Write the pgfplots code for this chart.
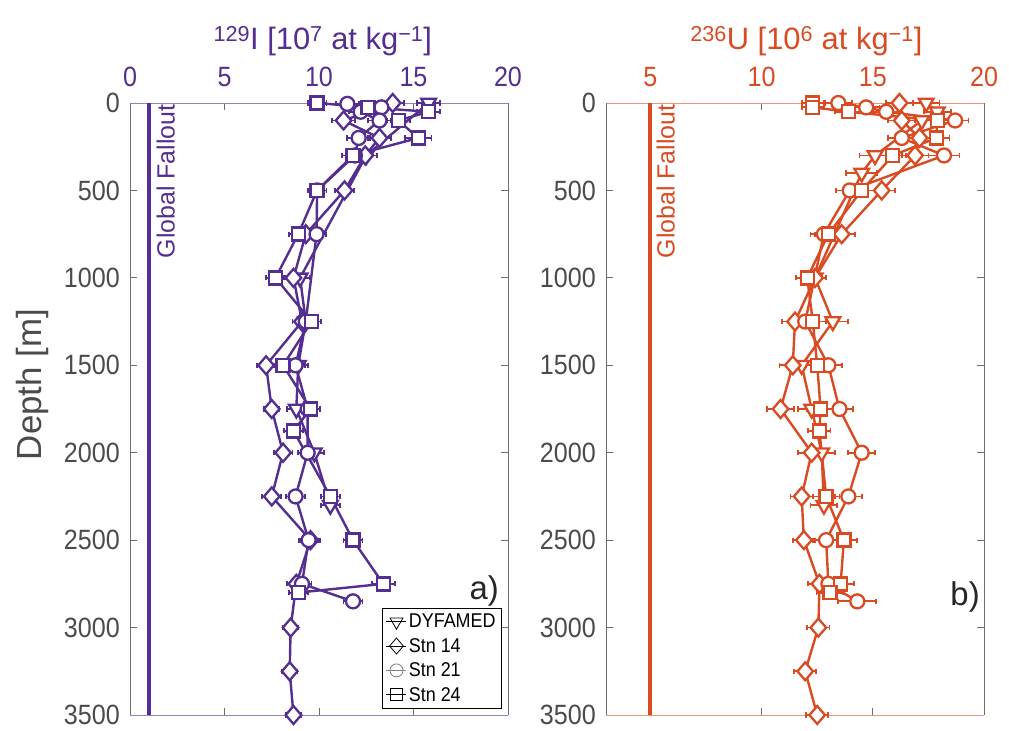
\documentclass[border=0pt]{standalone}
\usepackage{fontspec}
\setmainfont{Liberation Sans}
\newfontfamily\cond[FakeStretch=0.9]{Liberation Sans}
\usepackage{pgfplots}
\usepackage{pgfplotstable}
\pgfplotsset{compat=1.18}
\definecolor{pI}{RGB}{84,46,145}
\definecolor{pU}{RGB}{217,75,35}
\definecolor{axgray}{RGB}{110,110,110}
\definecolor{tickgray}{RGB}{75,75,75}

% ---------- 129I ----------
\pgfplotstableread{
d v e
0 15.8 0.6
300 12.5 0.6
1000 9.0 0.5
1250 9.3 0.5
1500 8.9 0.5
1750 8.8 0.5
2000 9.75 0.5
2300 10.6 0.5
}\IDY
\pgfplotstableread{
d v e
0 13.9 0.6
100 11.3 0.6
200 13.2 0.6
300 12.45 0.6
500 11.35 0.5
750 9.3 0.5
1000 8.65 0.5
1250 9.1 0.5
1500 7.2 0.5
1750 7.5 0.4
2000 8.1 0.5
2250 7.5 0.5
2500 9.55 0.5
2750 8.8 0.5
3000 8.5 0.4
3250 8.45 0.4
3500 8.65 0.4
}\IS
\pgfplotstableread{
d v e
5 11.5 0.6
25 13.3 0.6
50 12.2 0.6
100 13.2 0.6
200 12.1 0.6
300 11.9 0.5
500 9.9 0.5
750 9.87 0.5
1250 9.3 0.5
1500 8.76 0.5
1750 9.4 0.5
2000 9.4 0.5
2250 8.76 0.5
2500 9.45 0.5
2750 9.1 0.5
2850 11.8 0.5
}\ISS
\pgfplotstableread{
d v e
0 9.9 0.5
25 12.6 0.6
50 15.8 0.6
100 14.2 0.6
200 15.25 0.7
300 11.8 0.6
500 9.9 0.5
750 8.9 0.5
1000 7.7 0.5
1250 9.6 0.5
1500 8.1 0.5
1750 9.55 0.5
1875 8.65 0.5
2250 10.6 0.5
2500 11.8 0.5
2750 13.4 0.6
2800 8.9 0.5
}\ISSS
% ---------- 236U ----------
\pgfplotstableread{
d v e
0 17.4 0.6
50 17.9 0.6
100 17.2 0.6
300 15.1 0.7
400 14.5 0.7
1000 12.4 0.5
1250 13.2 0.7
1500 11.8 0.6
1750 12.25 0.6
2000 12.7 0.6
2300 12.8 0.6
}\UDY
\pgfplotstableread{
d v e
0 16.2 0.6
100 16.3 0.6
200 17.1 0.6
300 16.9 0.6
500 15.4 0.6
750 13.6 0.6
1000 12.4 0.5
1250 11.5 0.6
1500 11.4 0.6
1750 10.85 0.6
2000 12.25 0.6
2250 11.8 0.5
2500 11.9 0.5
2750 12.6 0.5
3000 12.55 0.5
3250 11.96 0.5
3500 12.5 0.5
}\US
\pgfplotstableread{
d v e
0 13.45 0.6
25 14.7 0.6
50 15.6 0.6
100 18.7 0.6
200 16.3 0.6
300 18.2 0.7
500 13.96 0.6
750 12.8 0.6
1250 11.96 0.6
1500 13.0 0.6
1750 13.5 0.6
2000 14.5 0.6
2250 13.9 0.6
2500 12.9 0.6
2750 13.0 0.6
2850 14.3 0.85
}\USS
\pgfplotstableread{
d v e
0 12.3 0.5
25 12.3 0.5
50 13.9 0.6
100 17.9 0.6
200 17.85 0.6
300 15.9 0.6
500 14.5 0.6
750 13.0 0.6
1000 12.05 0.5
1250 12.3 0.6
1500 12.5 0.6
1750 12.65 0.6
1875 12.6 0.5
2250 12.9 0.6
2500 13.7 0.6
2750 13.55 0.6
2800 13.07 0.6
}\USSS

\pgfplotsset{
  panel/.style={
    scale only axis, width=378bp, height=612bp,
    y dir=reverse, ymin=0, ymax=3500, ytick={0,500,...,3500},
    xticklabel pos=upper,
    tick align=inside,
    separate axis lines,
    y axis line style={draw=axgray, line width=1pt},
    major tick length=7bp,
    every tick/.style={axgray, line width=1pt},
    tick label style={font=\cond\fontsize{28}{28}\selectfont, inner sep=0pt},
    yticklabel style={text=tickgray, xshift=-10bp},
    xticklabel style={yshift=16bp},
    /pgf/number format/assume math mode=true,
    /pgf/number format/1000 sep={},
    clip=false,
    xlabel style={font=\fontsize{31}{31}\selectfont, anchor=base},
    legend image code/.code={%
      \draw[##1] (0bp,0bp) -- (20bp,0bp);
      \draw[##1, only marks] plot coordinates {(10bp,0bp)};},
  },
  ser/.style={line width=2.4bp,
    error bars/x dir=both, error bars/x explicit,
    error bars/error bar style={line width=1.8bp},
    error bars/error mark options={mark size=2.6bp, line width=1.8bp, rotate=90}},
  mDY/.style={mark=triangle*, mark size=8.5bp, mark options={fill=white, rotate=180, line width=2.3bp}},
  mS14/.style={mark=diamond*, mark size=9bp, mark options={fill=white, xscale=1.15, line width=2.3bp}},
  mS21/.style={mark=*, mark size=7bp, mark options={fill=white, line width=2.3bp}},
  mS24/.style={mark=square*, mark size=6.5bp, mark options={fill=white, line width=2.3bp}},
}

\begin{document}
\begin{tikzpicture}
\useasboundingbox (0,0) rectangle (1009bp,731bp);

% ===== Panel a =====
\begin{axis}[panel, at={(130bp,16bp)}, anchor=south west,
  xmin=0, xmax=20, xtick={0,5,10,15,20},
  x axis line style={draw=pI!60, line width=1pt},
  xticklabel style={text=pI},
  xlabel={\textsuperscript{129}I [10\textsuperscript{7} at kg\textsuperscript{−1}]},
  xlabel style={text=pI, at={(axis description cs:0.51,1)}, yshift=53bp},
  ylabel={Depth [m]},
  ylabel style={font=\fontsize{35}{35}\selectfont, text=tickgray,
    at={(axis description cs:-0.259,0.54)}, anchor=center},
  legend style={at={(0.984,0.01)}, anchor=south east, draw=black, line width=0.8pt,
    font=\cond\fontsize{20}{20}\selectfont, inner xsep=4bp, inner ysep=4bp, row sep=5bp,
    cells={anchor=west}, legend cell align=left},
]
\addplot[pI, line width=4bp, forget plot] coordinates {(1,0) (1,3500)};
\addplot[pI, ser, mDY, forget plot] table[x=v, y=d, x error=e] {\IDY};
\addplot[pI, ser, mS14, forget plot] table[x=v, y=d, x error=e] {\IS};
\addplot[pI, ser, mS21, forget plot] table[x=v, y=d, x error=e] {\ISS};
\addplot[pI, ser, mS24, forget plot] table[x=v, y=d, x error=e] {\ISSS};
\addlegendimage{black, line width=0.8pt, mark=triangle, mark size=7.5bp, mark options={rotate=180, fill=white}}
\addlegendentry{DYFAMED}
\addlegendimage{black, line width=0.8pt, mark=diamond, mark size=8bp, mark options={fill=white, xscale=1.15}}
\addlegendentry{Stn 14}
\addlegendimage{gray, line width=0.8pt, mark=o, mark size=6.5bp, mark options={fill=white}}
\addlegendentry{Stn 21}
\addlegendimage{black, line width=0.8pt, mark=square, mark size=6bp, mark options={fill=white}}
\addlegendentry{Stn 24}
\node[rotate=90, anchor=north east, inner sep=0pt, text=pI, font=\fontsize{25}{25}\selectfont] at (axis cs:1.4,8) {Global Fallout};
\node[font=\fontsize{33}{33}\selectfont, text=black!85] at (axis description cs:0.937,0.202) {a)};
\end{axis}

% ===== Panel b =====
\begin{axis}[panel, at={(606bp,16bp)}, anchor=south west,
  xmin=3, xmax=20, xtick={5,10,15,20},
  x axis line style={draw=pU!60, line width=1pt},
  xticklabel style={text=pU},
  xlabel={\textsuperscript{236}U [10\textsuperscript{6} at kg\textsuperscript{−1}]},
  xlabel style={text=pU, at={(axis description cs:0.53,1)}, yshift=53bp},
]
\addplot[pU, line width=4bp, forget plot] coordinates {(5,0) (5,3500)};
\addplot[pU, ser, mDY, forget plot] table[x=v, y=d, x error=e] {\UDY};
\addplot[pU, ser, mS14, forget plot] table[x=v, y=d, x error=e] {\US};
\addplot[pU, ser, mS21, forget plot] table[x=v, y=d, x error=e] {\USS};
\addplot[pU, ser, mS24, forget plot] table[x=v, y=d, x error=e] {\USSS};
\node[rotate=90, anchor=north east, inner sep=0pt, text=pU, font=\fontsize{25}{25}\selectfont] at (axis cs:5.27,8) {Global Fallout};
\node[font=\fontsize{33}{33}\selectfont, text=black!85] at (axis description cs:0.95,0.193) {b)};
\end{axis}
\end{tikzpicture}
\end{document}
